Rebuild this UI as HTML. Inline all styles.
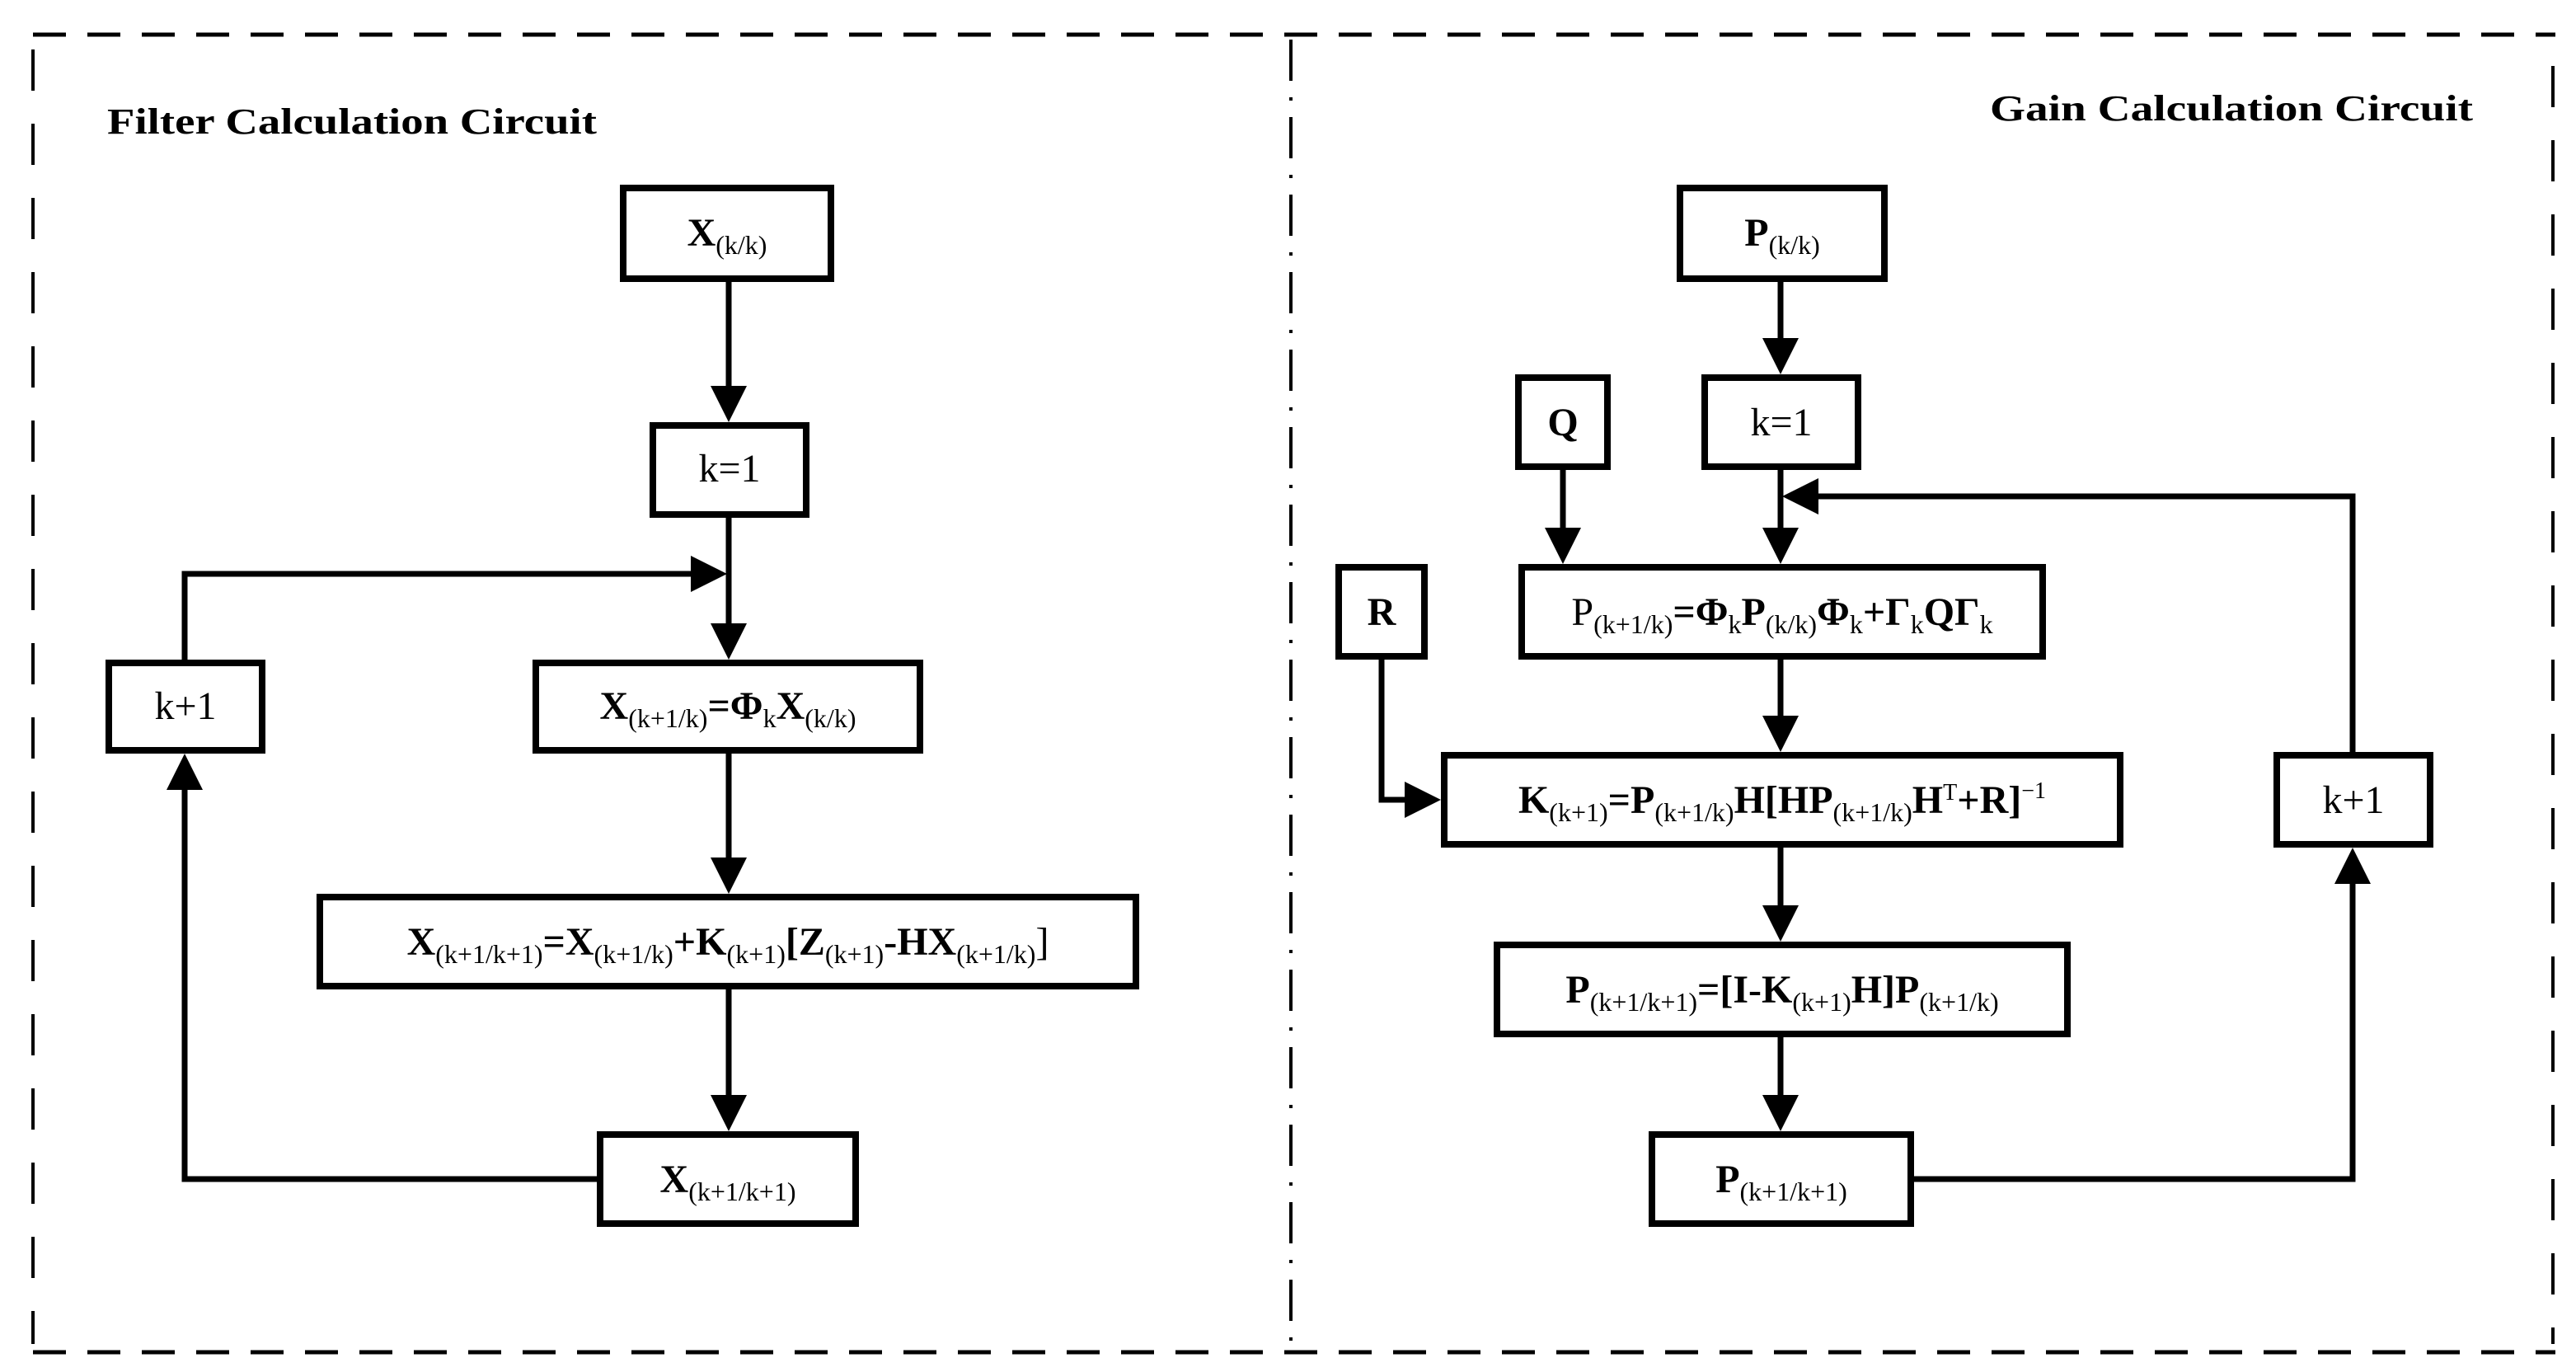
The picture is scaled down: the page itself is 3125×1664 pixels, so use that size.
<!DOCTYPE html>
<html><head><meta charset="utf-8"><style>
html,body{margin:0;padding:0;background:#fff;}
svg{display:block;}
text{font-family:"Liberation Serif",serif;fill:#000;}
.b{font-weight:bold;}
</style></head><body>
<svg width="3125" height="1664" viewBox="0 0 3125 1664" xmlns="http://www.w3.org/2000/svg">
<g fill="none" stroke="#000">
<line x1="40" y1="42" x2="3100" y2="42" stroke-width="5" stroke-dasharray="40 26"/>
<line x1="40" y1="1640" x2="3100" y2="1640" stroke-width="5" stroke-dasharray="40 26"/>
<line x1="40" y1="60" x2="40" y2="1630" stroke-width="4" stroke-dasharray="50 40"/>
<line x1="3097" y1="80" x2="3097" y2="1630" stroke-width="4" stroke-dasharray="50 40"/>
<line x1="1566" y1="48" x2="1566" y2="1630" stroke-width="4" stroke-dasharray="50 20 4 20"/>
</g>
<text class="b" x="130" y="162" font-size="44" textLength="594" lengthAdjust="spacingAndGlyphs">Filter Calculation Circuit</text>
<text class="b" x="2414" y="146" font-size="44" textLength="586" lengthAdjust="spacingAndGlyphs">Gain Calculation Circuit</text>

<g stroke="#000" stroke-width="7" fill="none">
<path d="M884 340 V480"/>
<path d="M884 628 V770"/>
<path d="M884 912 V1054"/>
<path d="M884 1198 V1340"/>
<path d="M224 802 V696 H850"/>
<path d="M724 1430 H224 V946"/>
<path d="M2160 340 V422"/>
<path d="M2160 568 V652"/>
<path d="M1896 568 V652"/>
<path d="M2160 798 V880"/>
<path d="M2160 1028 V1110"/>
<path d="M2160 1258 V1340"/>
<path d="M1676 798 V970 H1716"/>
<path d="M2322 1430 H2854 V1060"/>
<path d="M2854 912 V602 H2194"/>
</g>

<g fill="#000">
<polygon points="884,512 862,468 906,468"/>
<polygon points="884,800 862,756 906,756"/>
<polygon points="884,1084 862,1040 906,1040"/>
<polygon points="884,1372 862,1328 906,1328"/>
<polygon points="882,696 838,674 838,718"/>
<polygon points="224,914 202,958 246,958"/>
<polygon points="2160,454 2138,410 2182,410"/>
<polygon points="2160,684 2138,640 2182,640"/>
<polygon points="1896,684 1874,640 1918,640"/>
<polygon points="2160,912 2138,868 2182,868"/>
<polygon points="2160,1142 2138,1098 2182,1098"/>
<polygon points="2160,1372 2138,1328 2182,1328"/>
<polygon points="1748,970 1704,948 1704,992"/>
<polygon points="2854,1028 2832,1072 2876,1072"/>
<polygon points="2162,602 2206,580 2206,624"/>
</g>

<g fill="#fff" stroke="#000" stroke-width="8">
<rect x="756" y="228" width="252" height="110"/>
<rect x="792" y="516" width="186" height="108"/>
<rect x="132" y="804" width="186" height="106"/>
<rect x="650" y="804" width="466" height="106"/>
<rect x="388" y="1088" width="990" height="108"/>
<rect x="728" y="1376" width="310" height="108"/>
<rect x="2038" y="228" width="248" height="110"/>
<rect x="1842" y="458" width="108" height="108"/>
<rect x="2068" y="458" width="186" height="108"/>
<rect x="1624" y="688" width="104" height="108"/>
<rect x="1846" y="688" width="632" height="108"/>
<rect x="1752" y="916" width="820" height="108"/>
<rect x="1816" y="1146" width="692" height="108"/>
<rect x="2004" y="1376" width="314" height="108"/>
<rect x="2762" y="916" width="186" height="108"/>
</g>

<g font-size="48" text-anchor="middle">
<text x="882" y="298"><tspan class="b">X</tspan><tspan font-size="32" dy="10">(k/k)</tspan></text>
<text x="885" y="584">k=1</text>
<text x="225" y="872">k+1</text>
<text x="883" y="872"><tspan class="b">X</tspan><tspan font-size="32" dy="10">(k+1/k)</tspan><tspan dy="-10" class="b">=Φ</tspan><tspan font-size="32" dy="10">k</tspan><tspan class="b" dy="-10">X</tspan><tspan font-size="32" dy="10">(k/k)</tspan></text>
<text x="883" y="1158"><tspan class="b">X</tspan><tspan font-size="32" dy="10">(k+1/k+1)</tspan><tspan dy="-10" class="b">=X</tspan><tspan font-size="32" dy="10">(k+1/k)</tspan><tspan dy="-10" class="b">+K</tspan><tspan font-size="32" dy="10">(k+1)</tspan><tspan dy="-10" class="b">[Z</tspan><tspan font-size="32" dy="10">(k+1)</tspan><tspan dy="-10" class="b">-HX</tspan><tspan font-size="32" dy="10">(k+1/k)</tspan><tspan dy="-10">]</tspan></text>
<text x="883" y="1446"><tspan class="b">X</tspan><tspan font-size="32" dy="10">(k+1/k+1)</tspan></text>

<text x="2162" y="298"><tspan class="b">P</tspan><tspan font-size="32" dy="10">(k/k)</tspan></text>
<text x="1896" y="528" class="b">Q</text>
<text x="2161" y="528">k=1</text>
<text x="1676" y="758" class="b">R</text>
<text x="2162" y="758"><tspan>P</tspan><tspan font-size="32" dy="10">(k+1/k)</tspan><tspan dy="-10" class="b">=Φ</tspan><tspan font-size="32" dy="10">k</tspan><tspan class="b" dy="-10">P</tspan><tspan font-size="32" dy="10">(k/k)</tspan><tspan class="b" dy="-10">Φ</tspan><tspan font-size="32" dy="10">k</tspan><tspan class="b" dy="-10">+Γ</tspan><tspan font-size="32" dy="10">k</tspan><tspan class="b" dy="-10">QΓ</tspan><tspan font-size="32" dy="10">k</tspan></text>
<text x="2162" y="986"><tspan class="b">K</tspan><tspan font-size="32" dy="10">(k+1)</tspan><tspan dy="-10" class="b">=P</tspan><tspan font-size="32" dy="10">(k+1/k)</tspan><tspan dy="-10" class="b">H[HP</tspan><tspan font-size="32" dy="10">(k+1/k)</tspan><tspan dy="-10" class="b">H</tspan><tspan font-size="28" dy="-16">T</tspan><tspan dy="16" class="b">+R]</tspan><tspan font-size="28" dy="-18">−1</tspan></text>
<text x="2162" y="1216"><tspan class="b">P</tspan><tspan font-size="32" dy="10">(k+1/k+1)</tspan><tspan dy="-10" class="b">=[I-K</tspan><tspan font-size="32" dy="10">(k+1)</tspan><tspan dy="-10" class="b">H]P</tspan><tspan font-size="32" dy="10">(k+1/k)</tspan></text>
<text x="2161" y="1446"><tspan class="b">P</tspan><tspan font-size="32" dy="10">(k+1/k+1)</tspan></text>
<text x="2855" y="986">k+1</text>
</g>
</svg>
</body></html>
